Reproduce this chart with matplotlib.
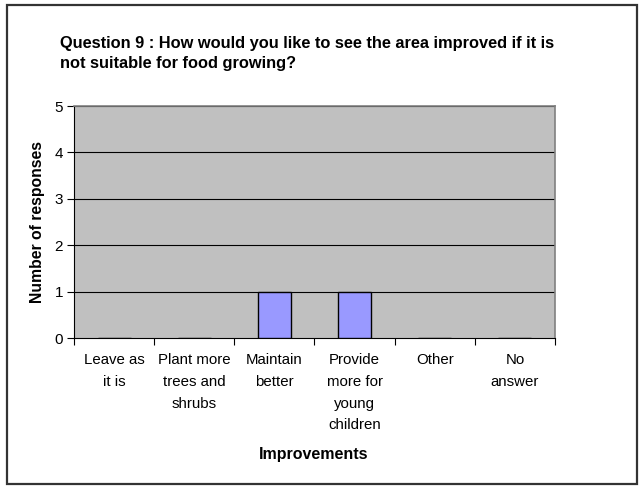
import matplotlib.pyplot as plt
from matplotlib.patches import Rectangle

categories = ['Leave as\nit is', 'Plant more\ntrees and\nshrubs', 'Maintain\nbetter',
              'Provide\nmore for\nyoung\nchildren', 'Other', 'No\nanswer']
responses = [0, 0, 1, 1, 0, 0]
y_ticks = [0, 1, 2, 3, 4, 5]

plt.rcParams['font.family'] = ['Liberation Sans', 'DejaVu Sans']

W, H = 640, 486
fig = plt.figure(figsize=(W / 100, H / 100), dpi=100)

# outer chart border
fig.patches.append(Rectangle((7 / W, 2 / H), 630 / W, 479 / H, transform=fig.transFigure,
                             fill=False, edgecolor='#333333', linewidth=1.6))

ax = fig.add_axes([74 / W, (H - 338) / H, 481 / W, 232 / H])
ax.set_facecolor('#C0C0C0')

x = list(range(len(categories)))
ax.bar(x, responses, width=0.41, color='#9999FF', edgecolor='black', linewidth=1, zorder=3)

ax.set_xlim(-0.5, len(categories) - 0.5)
ax.set_ylim(0, 5)
ax.set_yticks(y_ticks)
for v in y_ticks[1:]:
    ax.axhline(v, color='black', linewidth=0.8, zorder=2)

ax.set_xticks(x)
ax.set_xticklabels(categories, fontsize=10.8, linespacing=1.7, va='top')
ax.tick_params(axis='x', which='major', length=0, pad=11)
ax.set_xticks([i - 0.5 for i in range(len(categories) + 1)], minor=True)
ax.tick_params(axis='x', which='minor', length=5, width=0.8, direction='out')
ax.tick_params(axis='y', length=5, width=0.8, direction='out', labelsize=11, pad=3)

for side in ['top', 'right']:
    ax.spines[side].set_color('#808080')
    ax.spines[side].set_linewidth(1.2)
for side in ['left', 'bottom']:
    ax.spines[side].set_color('black')
    ax.spines[side].set_linewidth(0.8)

ax.set_ylabel('Number of responses', fontsize=11.3, fontweight='bold', labelpad=7)
fig.text(314 / W, 1 - 454 / H, 'Improvements', fontsize=11.5, fontweight='bold',
         ha='center', va='center')

fig.text(60 / W, 1 - 36 / H, 'Question 9 : How would you like to see the area improved if it is\n'
         'not suitable for food growing?', fontsize=11.8, fontweight='bold',
         ha='left', va='top', linespacing=1.42)

fig.savefig('out.png', dpi=100)
